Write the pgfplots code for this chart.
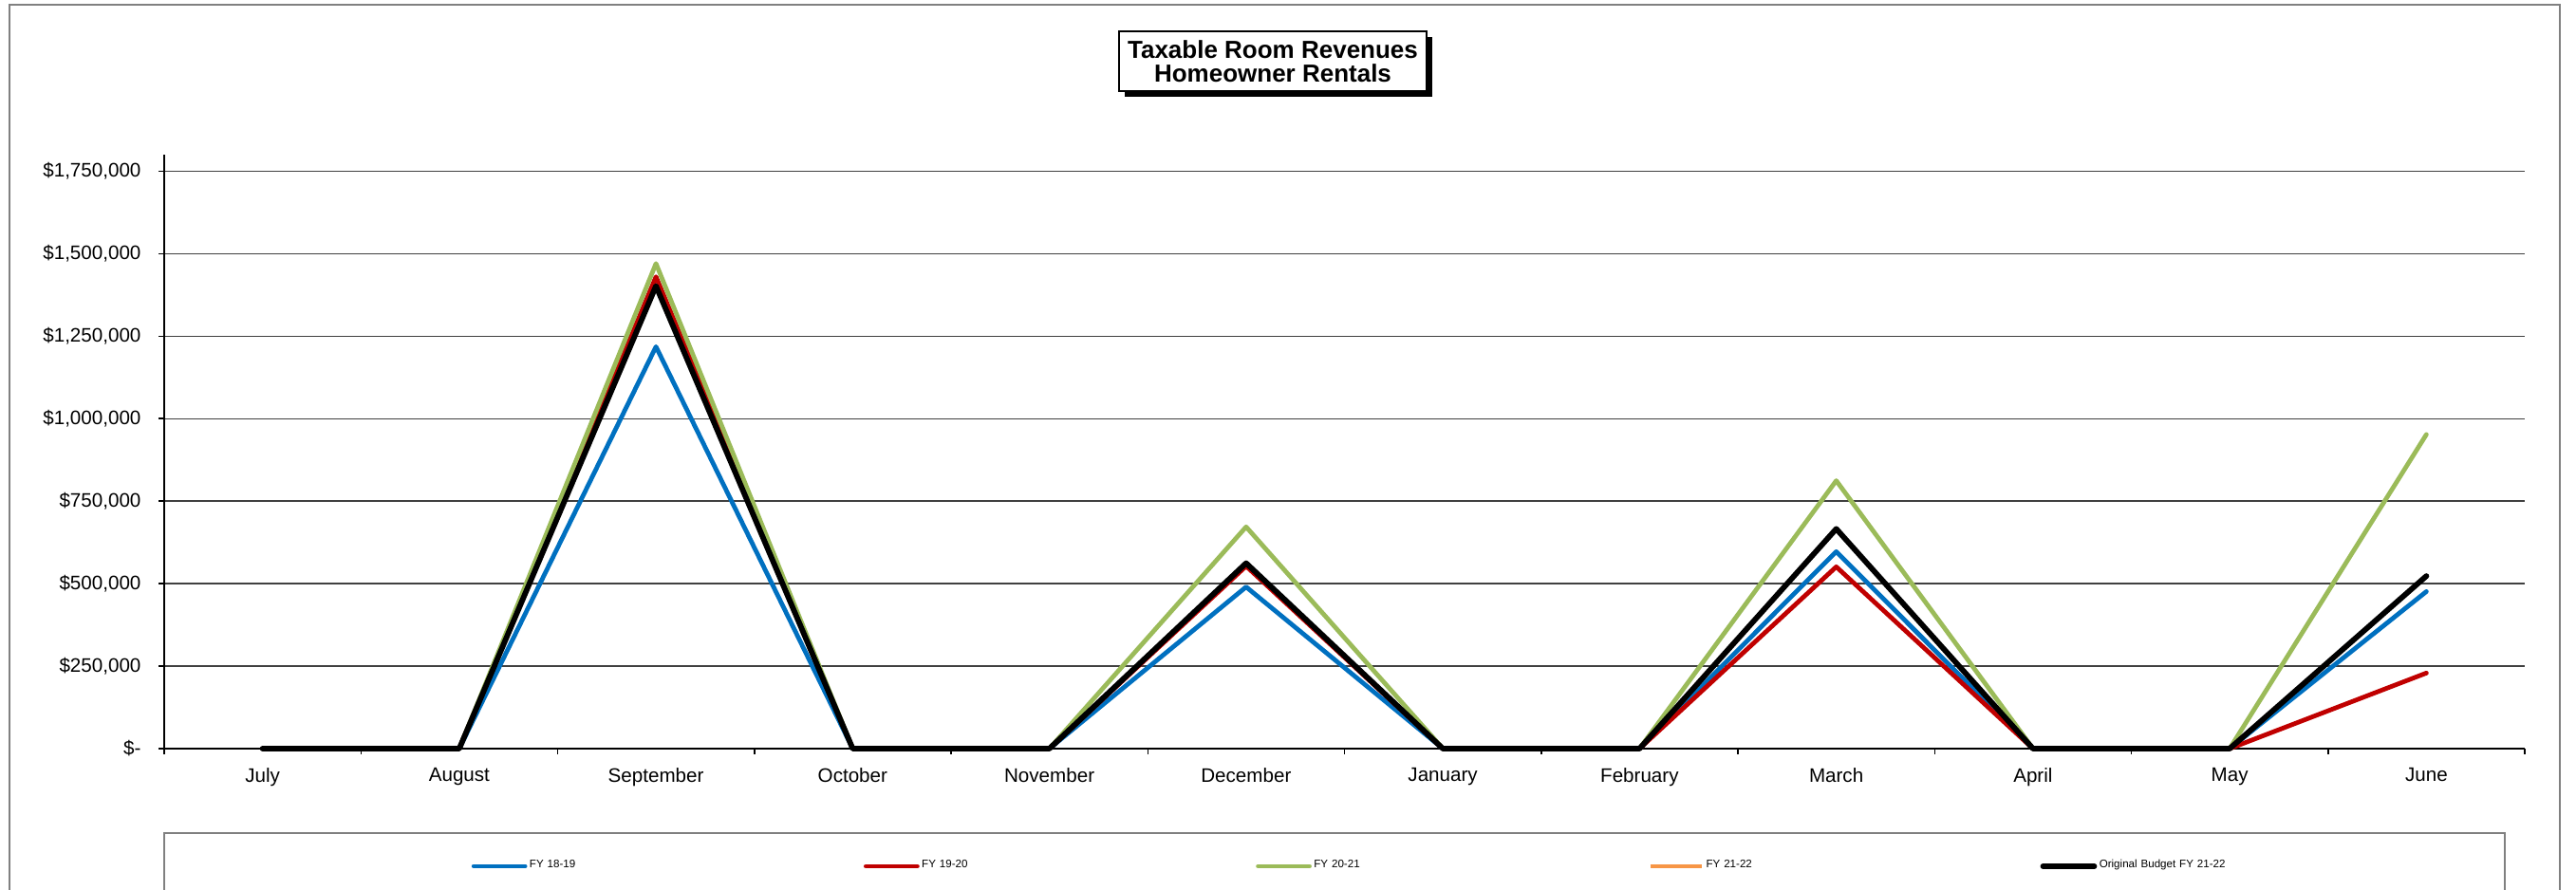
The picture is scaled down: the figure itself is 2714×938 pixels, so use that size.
\documentclass[border=0pt]{standalone}
\usepackage{fontspec}
\setmainfont{Liberation Sans}
\usepackage{pgfplots}
\pgfplotsset{compat=1.18}

\definecolor{fyblue}{RGB}{0,112,192}
\definecolor{fyred}{RGB}{192,0,0}
\definecolor{fygreen}{RGB}{155,187,89}
\definecolor{fyorange}{RGB}{247,150,70}
\definecolor{framegray}{RGB}{128,128,128}

\begin{document}
\begin{tikzpicture}[x=0.25pt,y=0.25pt]
% one unit = one pixel of the 2714x938 reference
\useasboundingbox (0,0) rectangle (2714,938);
% chart area border
\draw[framegray, line width=0.5pt] (10,-30) -- (10,933) -- (2697,933) -- (2697,-30);
% title box with shadow
\fill[black] (1185,836) rectangle (1509,899);
\draw[black, fill=white, line width=0.35pt] (1179,842) rectangle (1503,905);
\node[align=center, font=\bfseries\fontsize{6.5}{6.25}\selectfont] at (1341,873.5)
  {Taxable Room Revenues\\Homeowner Rentals};
% legend frame
\draw[framegray, line width=0.45pt] (173,-30) -- (173,60) -- (2639,60) -- (2639,-30);
\coordinate (plotorigin) at (173,149);

\begin{axis}[
    at={(plotorigin)}, anchor=south west, scale only axis,
    width=621.75pt, height=156.5pt,
    xmin=-0.5, xmax=11.5, ymin=0, ymax=1800000,
    axis x line*=bottom, axis y line*=left,
    axis line style={-, black, line width=0.375pt},
    clip=false,
    tick align=outside,
    major tick length=1.5pt,
    tick style={black, line width=0.375pt},
    xtick={-0.5,0.5,...,11.5},
    x tick label as interval,
    xticklabels={July,August,September,October,November,December,
                 January,February,March,April,May,June},
    ytick={0,250000,500000,750000,1000000,1250000,1500000,1750000},
    yticklabels={{\$-},{\$250,000},{\$500,000},{\$750,000},{\$1,000,000},
                 {\$1,250,000},{\$1,500,000},{\$1,750,000}},
    scaled y ticks=false,
    ymajorgrids,
    major grid style={black!75, line width=0.35pt},
    ticklabel style={font=\fontsize{5.15}{6}\selectfont},
    yticklabel style={xshift=-1.1pt},
    legend columns=5,
    legend cell align=left,
    legend style={draw=none, fill=none, at={(0.12987,-0.1981)}, anchor=west,
                  inner sep=0pt, font=\fontsize{2.9}{3}\selectfont,
                  nodes={inner sep=0.6pt, text width=87.4pt, align=left}},
    legend image code/.code={\draw[#1] (0pt,0pt) -- (13.5pt,0pt);},
]
% FY 18-19
\addplot[fyblue, line width=1.2pt, line join=round, line cap=round] coordinates {
    (0,0) (1,0) (2,1218000) (3,0) (4,0) (5,490000)
    (6,0) (7,0) (8,597000) (9,0) (10,0) (11,476000)};
\addlegendentry{FY 18-19}
% FY 19-20
\addplot[fyred, line width=1.2pt, line join=round, line cap=round] coordinates {
    (0,0) (1,0) (2,1430000) (3,0) (4,0) (5,553000)
    (6,0) (7,0) (8,551000) (9,0) (10,0) (11,229000)};
\addlegendentry{FY 19-20}
% FY 20-21
\addplot[fygreen, line width=1.2pt, line join=round, line cap=round] coordinates {
    (0,0) (1,0) (2,1470000) (3,0) (4,0) (5,672000)
    (6,0) (7,0) (8,812000) (9,0) (10,0) (11,952000)};
\addlegendentry{FY 20-21}
% FY 21-22 has no values yet
\addlegendimage{fyorange, line width=1.2pt}
\addlegendentry{FY 21-22}
% original budget
\addplot[black, line width=1.45pt, line join=round, line cap=round] coordinates {
    (0,0) (1,0) (2,1402000) (3,0) (4,0) (5,562000)
    (6,0) (7,0) (8,666000) (9,0) (10,0) (11,523000)};
\addlegendentry{Original Budget FY 21-22}
\end{axis}
\end{tikzpicture}
\end{document}
